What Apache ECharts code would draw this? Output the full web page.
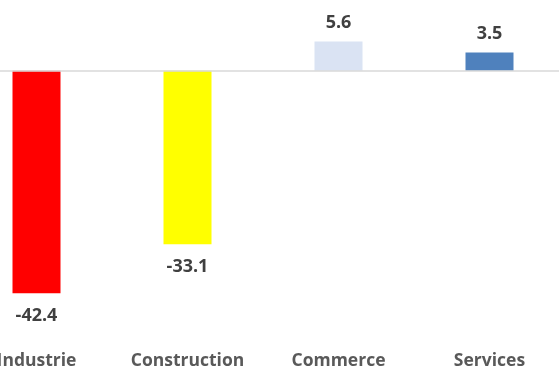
<!DOCTYPE html>
<html>
<head>
<meta charset="utf-8">
<script src="https://cdn.jsdelivr.net/npm/echarts@6/dist/echarts.min.js"></script>
<style>
  html, body { margin: 0; padding: 0; background: #ffffff; overflow: hidden; width: 559px; height: 370px; }
  #chart { width: 604px; height: 370px; margin-left: -39.5px; }
</style>
</head>
<body>
<div id="chart"></div>
<script>
// Sector categories and their change values
const categories = ['Industrie', 'Construction', 'Commerce', 'Services'];
const values = [-42.4, -33.1, 5.6, 3.5];
const barColors = ['#ff0000', '#ffff00', '#dae3f3', '#4f81bd'];

const fontFamily = '"Open Sans", "Liberation Sans", sans-serif';

const chart = echarts.init(document.getElementById('chart'), null, { renderer: 'canvas' });

chart.setOption({
  animation: false,
  grid: { left: 0, right: 0, top: 0, height: 334 },
  xAxis: {
    type: 'category',
    data: categories,
    axisLine: { show: false, onZero: false },
    axisTick: { show: false },
    axisLabel: {
      margin: 19,
      color: '#595959',
      fontSize: 17.5,
      fontWeight: 'bold',
      fontFamily: fontFamily
    }
  },
  yAxis: {
    type: 'value',
    min: -50,
    max: 13.5,
    show: false,
    splitLine: { show: false }
  },
  series: [{
    type: 'bar',
    barWidth: 48,
    data: values.map((v, i) => ({
      value: v,
      itemStyle: { color: barColors[i] },
      label: { position: v < 0 ? 'bottom' : 'top', distance: v < 0 ? 14 : 10 }
    })),
    label: {
      show: true,
      color: '#404040',
      fontSize: 18,
      fontWeight: 'bold',
      fontFamily: fontFamily,
      formatter: p => p.value.toFixed(1)
    },
    markLine: {
      silent: true,
      symbol: 'none',
      label: { show: false },
      lineStyle: { color: '#d9d9d9', width: 1.5, type: 'solid' },
      data: [{ yAxis: 0 }]
    }
  }]
});
</script>
</body>
</html>
